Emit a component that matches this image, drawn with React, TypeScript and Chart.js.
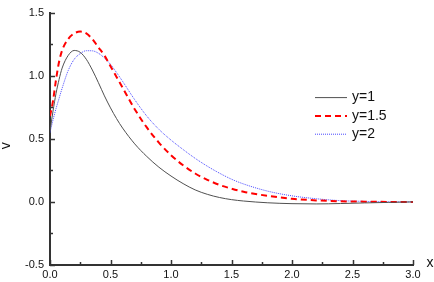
import React, { useEffect, useRef } from "react";
import { Chart, registerables } from "chart.js";
Chart.register(...registerables);

const xValues = [0, 0.025, 0.05, 0.075, 0.1, 0.15, 0.2, 0.25, 0.3, 0.35, 0.4, 0.45, 0.5, 0.55, 0.6, 0.7, 0.8, 0.9, 1.0, 1.1, 1.2, 1.3, 1.4, 1.5, 1.6, 1.8, 2.0, 2.2, 2.4, 2.6, 2.8, 3.0];
const vY1 = [0.56, 0.72, 0.86, 0.97, 1.06, 1.16, 1.2, 1.185, 1.13, 1.045, 0.945, 0.84, 0.745, 0.66, 0.585, 0.46, 0.36, 0.275, 0.205, 0.145, 0.095, 0.06, 0.035, 0.018, 0.007, -0.007, -0.014, -0.016, -0.013, -0.008, -0.004, 0];
const vY15 = [0.68, 0.8, 0.97, 1.11, 1.2, 1.29, 1.335, 1.35, 1.335, 1.29, 1.225, 1.16, 1.075, 0.99, 0.905, 0.735, 0.59, 0.47, 0.37, 0.29, 0.225, 0.175, 0.135, 0.105, 0.08, 0.048, 0.025, 0.012, 0.005, 0.002, 0, 0];
const vY2 = [0.55, 0.65, 0.74, 0.82, 0.9, 1.04, 1.13, 1.175, 1.198, 1.197, 1.178, 1.14, 1.09, 1.025, 0.955, 0.81, 0.68, 0.575, 0.49, 0.415, 0.345, 0.283, 0.228, 0.18, 0.142, 0.085, 0.048, 0.025, 0.01, 0.004, 0.001, 0];
const seriesLabels = ["y=1", "y=1.5", "y=2"];
const seriesColors = ["#505050", "#ff0000", "#4a4aff"];
const seriesWidths = [1, 2, 1];
const seriesDashes: number[][] = [[], [6, 4], [1, 1]];
const xMin = 0, xMax = 3, xStep = 0.5, xMinor = 0.25;
const yMin = -0.5, yMax = 1.5, yStep = 0.5, yMinor = 0.25;
const xTitle = "x";
const yTitle = "v";

const FONT = "'Liberation Sans', Arial, sans-serif";

const decorPlugin = {
  id: "decor",
  afterDraw(chart: any) {
    const ctx = chart.ctx;
    const xs = chart.scales.x;
    const ys = chart.scales.y;
    const area = chart.chartArea;
    ctx.save();
    ctx.strokeStyle = "#333";
    ctx.lineWidth = 1.5;
    ctx.setLineDash([]);
    for (let v = xMin; v <= xMax + 1e-9; v += xMinor) {
      const major = Math.abs(v / xStep - Math.round(v / xStep)) < 1e-6;
      const px = Math.round(xs.getPixelForValue(v)) + 0.5;
      const len = major ? 5 : 3;
      ctx.beginPath();
      ctx.moveTo(px, area.bottom);
      ctx.lineTo(px, area.bottom - len);
      ctx.stroke();
    }
    for (let v = yMin; v <= yMax + 1e-9; v += yMinor) {
      const major = Math.abs(v / yStep - Math.round(v / yStep)) < 1e-6;
      const py = Math.round(ys.getPixelForValue(v)) + 0.5;
      const len = major ? 5 : 3;
      ctx.beginPath();
      ctx.moveTo(area.left, py);
      ctx.lineTo(area.left + len, py);
      ctx.stroke();
    }
    // axis titles
    ctx.fillStyle = "#111";
    ctx.font = `14px ${FONT}`;
    ctx.textAlign = "center";
    ctx.textBaseline = "middle";
    ctx.fillText(xTitle, area.right + 17, area.bottom - 2);
    ctx.save();
    ctx.translate(6, (area.top + area.bottom) / 2 + 7);
    ctx.rotate(-Math.PI / 2);
    ctx.fillText(yTitle, 0, 0);
    ctx.restore();
    // legend
    const lx0 = area.right - 98;
    const lx1 = area.right - 66;
    const ly0 = area.top + 85;
    chart.data.datasets.forEach((ds: any, i: number) => {
      const y = ly0 + i * 18.3;
      ctx.strokeStyle = ds.borderColor;
      ctx.lineWidth = ds.borderWidth;
      ctx.setLineDash(ds.borderDash || []);
      ctx.beginPath();
      ctx.moveTo(lx0, y);
      ctx.lineTo(lx1, y);
      ctx.stroke();
      ctx.setLineDash([]);
      ctx.fillStyle = "#111";
      ctx.textAlign = "left";
      ctx.font = `14px ${FONT}`;
      ctx.fillText(ds.label, lx1 + 5, y);
    });
    ctx.restore();
  },
};

export default function App() {
  const ref = useRef<HTMLCanvasElement>(null);
  useEffect(() => {
    if (!ref.current) return;
    const mk = (vals: number[]) => xValues.map((x, i) => ({ x, y: vals[i] }));
    const all = [vY1, vY15, vY2];
    const chart = new Chart(ref.current, {
      type: "line",
      data: {
        datasets: all.map((vals, i) => ({
          label: seriesLabels[i],
          data: mk(vals),
          borderColor: seriesColors[i],
          borderWidth: seriesWidths[i],
          borderDash: seriesDashes[i],
          pointRadius: 0,
          fill: false,
          cubicInterpolationMode: "monotone" as const,
        })),
      },
      options: {
        animation: false,
        responsive: false,
        devicePixelRatio: 1,
        layout: { padding: { top: 0, right: 21, bottom: 0, left: 0 } },
        plugins: { legend: { display: false }, tooltip: { enabled: false } },
        scales: {
          x: {
            type: "linear",
            min: xMin,
            max: xMax,
            afterFit: (s: any) => { s.height = 17; },
            grid: { display: false, drawTicks: false },
            border: { display: true, color: "#333", width: 2 },
            ticks: {
              stepSize: xStep,
              padding: 3,
              color: "#111",
              font: { family: FONT, size: 11 },
              maxRotation: 0,
              callback: (v: any) => Number(v).toFixed(1),
            },
          },
          y: {
            type: "linear",
            min: yMin,
            max: yMax,
            afterFit: (s: any) => { s.width = 50; },
            grid: { display: false, drawTicks: false },
            border: { display: true, color: "#333", width: 2 },
            ticks: {
              stepSize: yStep,
              padding: 6,
              color: "#111",
              font: { family: FONT, size: 11 },
              callback: (v: any) => Number(v).toFixed(1),
            },
          },
        },
      },
      plugins: [decorPlugin],
    });
    return () => chart.destroy();
  }, []);
  return (
    <div style={{ position: "absolute", left: 0, top: 0, width: 434, height: 282, background: "#fff" }}>
      <canvas ref={ref} width={434} height={282} style={{ width: 434, height: 282 }} />
    </div>
  );
}
